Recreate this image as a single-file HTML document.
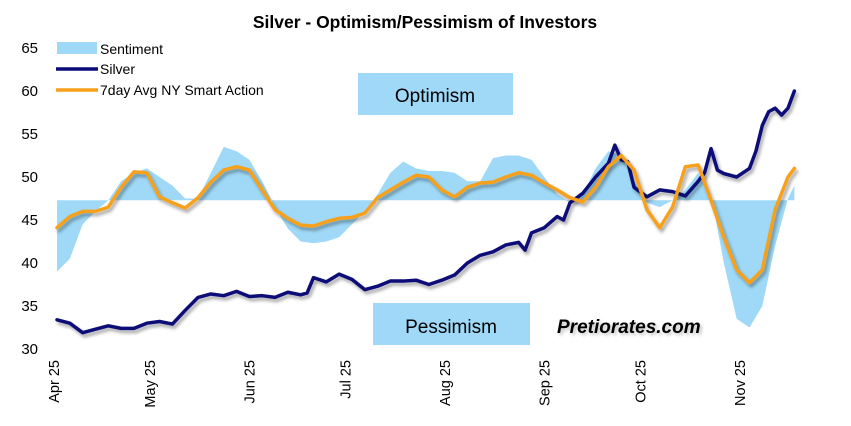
<!DOCTYPE html>
<html><head><meta charset="utf-8"><style>
body{margin:0;background:#fff;width:851px;height:426px;overflow:hidden}
svg{display:block;font-family:"Liberation Sans",Arial,sans-serif}
</style></head><body>
<svg id="chart" width="851" height="426">
<defs>
<filter id="sh" x="-5%" y="-10%" width="110%" height="130%"><feDropShadow dx="2" dy="3" stdDeviation="1.5" flood-color="#000" flood-opacity="0.35"/></filter>
<filter id="shs" x="-5%" y="-10%" width="110%" height="130%"><feDropShadow dx="2" dy="2" stdDeviation="1.5" flood-color="#000" flood-opacity="0.25"/></filter>
</defs>
<text x="425" y="28" text-anchor="middle" font-size="17.5" font-weight="bold">Silver - Optimism/Pessimism of Investors</text>
<rect x="358" y="73" width="155" height="42" fill="#9fd9f7"/>
<text x="435" y="102" text-anchor="middle" font-size="19">Optimism</text>
<rect x="373" y="303" width="157" height="42" fill="#9fd9f7"/>
<text x="451" y="333" text-anchor="middle" font-size="19">Pessimism</text>
<text x="557" y="333" font-size="19" font-weight="bold" font-style="italic" filter="url(#shs)">Pretiorates.com</text>
<g id="yaxis"></g><g id="xaxis"></g>
<g id="plot"></g>
<g>
<rect x="57" y="42" width="40" height="12" fill="#9fd9f7"/>
<text x="100" y="54" font-size="14">Sentiment</text>
<line x1="56" y1="69" x2="98" y2="69" stroke="#0a0a78" stroke-width="3.5"/>
<text x="100" y="74" font-size="14">Silver</text>
<line x1="56" y1="90" x2="98" y2="90" stroke="#f7a01c" stroke-width="3.5"/>
<text x="100" y="95" font-size="14">7day Avg NY Smart Action</text>
</g>
</svg>
<script>
const days=[0,4,8,12,16,20,24,28,32,36,40,44,48,52,56,60,64,68,72,76,80,84,88,92,96,100,104,108,112,116,120,124,128,132,136,140,144,148,152,156,160,164,168,172,176,180,184,188,192,196,200,204,208,212,216,220,224,228,230];
const sentiment=[39,40.5,44.5,46,47.3,49.5,50.5,51,50,49,47.5,47.5,50.5,53.5,53,52,49.5,46.5,44,42.5,42.3,42.5,43,44.5,46,48,50.5,51.8,51,50.7,50.7,50.5,49.5,49.5,52.2,52.5,52.5,52,50,48,47,48,51,53,52.5,49.5,47,46.5,47.3,48.5,50.5,48,40,33.5,32.5,35,42,47.5,49];
const smart=[44.1,45.4,46,46,46.5,48.8,50.6,50.5,47.7,47,46.4,47.6,49.4,50.8,51.2,50.8,48.5,46.2,45.2,44.4,44.3,44.8,45.2,45.3,45.8,47.6,48.5,49.4,50.2,50,48.5,47.7,48.8,49.3,49.4,50,50.5,50.2,49.3,48.5,47.6,47.1,48.8,51.2,52.5,50.8,46.2,44.1,46.5,51.2,51.4,47.3,43,39.2,37.7,39.2,46.2,50,51];
const silverDays=[0,4,8,12,16,20,24,28,32,36,40,44,48,52,56,60,64,68,72,76,78,80,84,88,92,96,100,104,108,112,116,120,124,128,132,136,140,144,146,148,152,156,158,160,164,168,172,174,176,178,180,184,188,192,196,200,202,204,206,208,212,216,218,220,222,224,226,228,230];
const silver=[33.4,33,31.9,32.3,32.7,32.4,32.4,33,33.2,32.9,34.5,36,36.4,36.2,36.7,36.1,36.2,36,36.6,36.3,36.5,38.3,37.8,38.7,38.1,36.9,37.3,37.9,37.9,38,37.5,38,38.6,40,40.9,41.3,42.1,42.4,41.5,43.5,44.1,45.4,45,47,48.1,50,51.6,53.7,52,51.8,48.8,47.7,48.5,48.3,47.8,49.5,50.5,53.3,50.8,50.4,50,51,53,56,57.6,58,57.2,58,60];
const baseline=47.3;
const yTicks=[30,35,40,45,50,55,60,65];
const xTickDays=[0,30,61,91,122,153,183,214];
const xTickLabels=["Apr 25","May 25","Jun 25","Jul 25","Aug 25","Sep 25","Oct 25","Nov 25"];
const NS="http://www.w3.org/2000/svg";
const X=d=>57+3.206*d, Y=v=>349-(v-30)*8.6;
function mk(t,a,p){const e=document.createElementNS(NS,t);for(const k in a)e.setAttribute(k,a[k]);p.appendChild(e);return e;}
const ya=document.getElementById('yaxis'),xa=document.getElementById('xaxis'),pl=document.getElementById('plot');
yTicks.forEach(v=>{const t=mk('text',{x:38,y:Y(v)+5,'text-anchor':'end','font-size':15},ya);t.textContent=v;

});
xTickDays.forEach((d,i)=>{const x=X(d)-3;const t=mk('text',{x:0,y:0,'text-anchor':'end','font-size':14.5,transform:`translate(${x+5},360) rotate(-90)`},xa);t.textContent=xTickLabels[i];

});
let d='M'+X(days[0])+','+Y(baseline);
days.forEach((dd,i)=>{d+=' L'+X(dd)+','+Y(sentiment[i]);});
d+=' L'+X(days[days.length-1])+','+Y(baseline)+' Z';
const ar=mk('path',{d:d,fill:'#9fd9f7'},pl);


const bl=mk('line',{x1:X(days[0]),x2:X(days[days.length-1]),y1:Y(baseline),y2:Y(baseline),stroke:'#a8a8a8','stroke-width':2,filter:'url(#shs)'},pl);


function line(xs,arr,col,name){const n=Math.min(xs.length,arr.length);const pts=[];for(let i=0;i<n;i++)pts.push(X(xs[i])+','+Y(arr[i]));
const p=mk('polyline',{points:pts.join(' '),fill:'none',stroke:col,'stroke-width':3.5,'stroke-linejoin':'round','stroke-linecap':'round',filter:'url(#sh)'},pl);

}
line(silverDays,silver,'#0a0a78','silver-line');
line(days,smart,'#f7a01c','smart-action-line');
</script>
</body></html>
